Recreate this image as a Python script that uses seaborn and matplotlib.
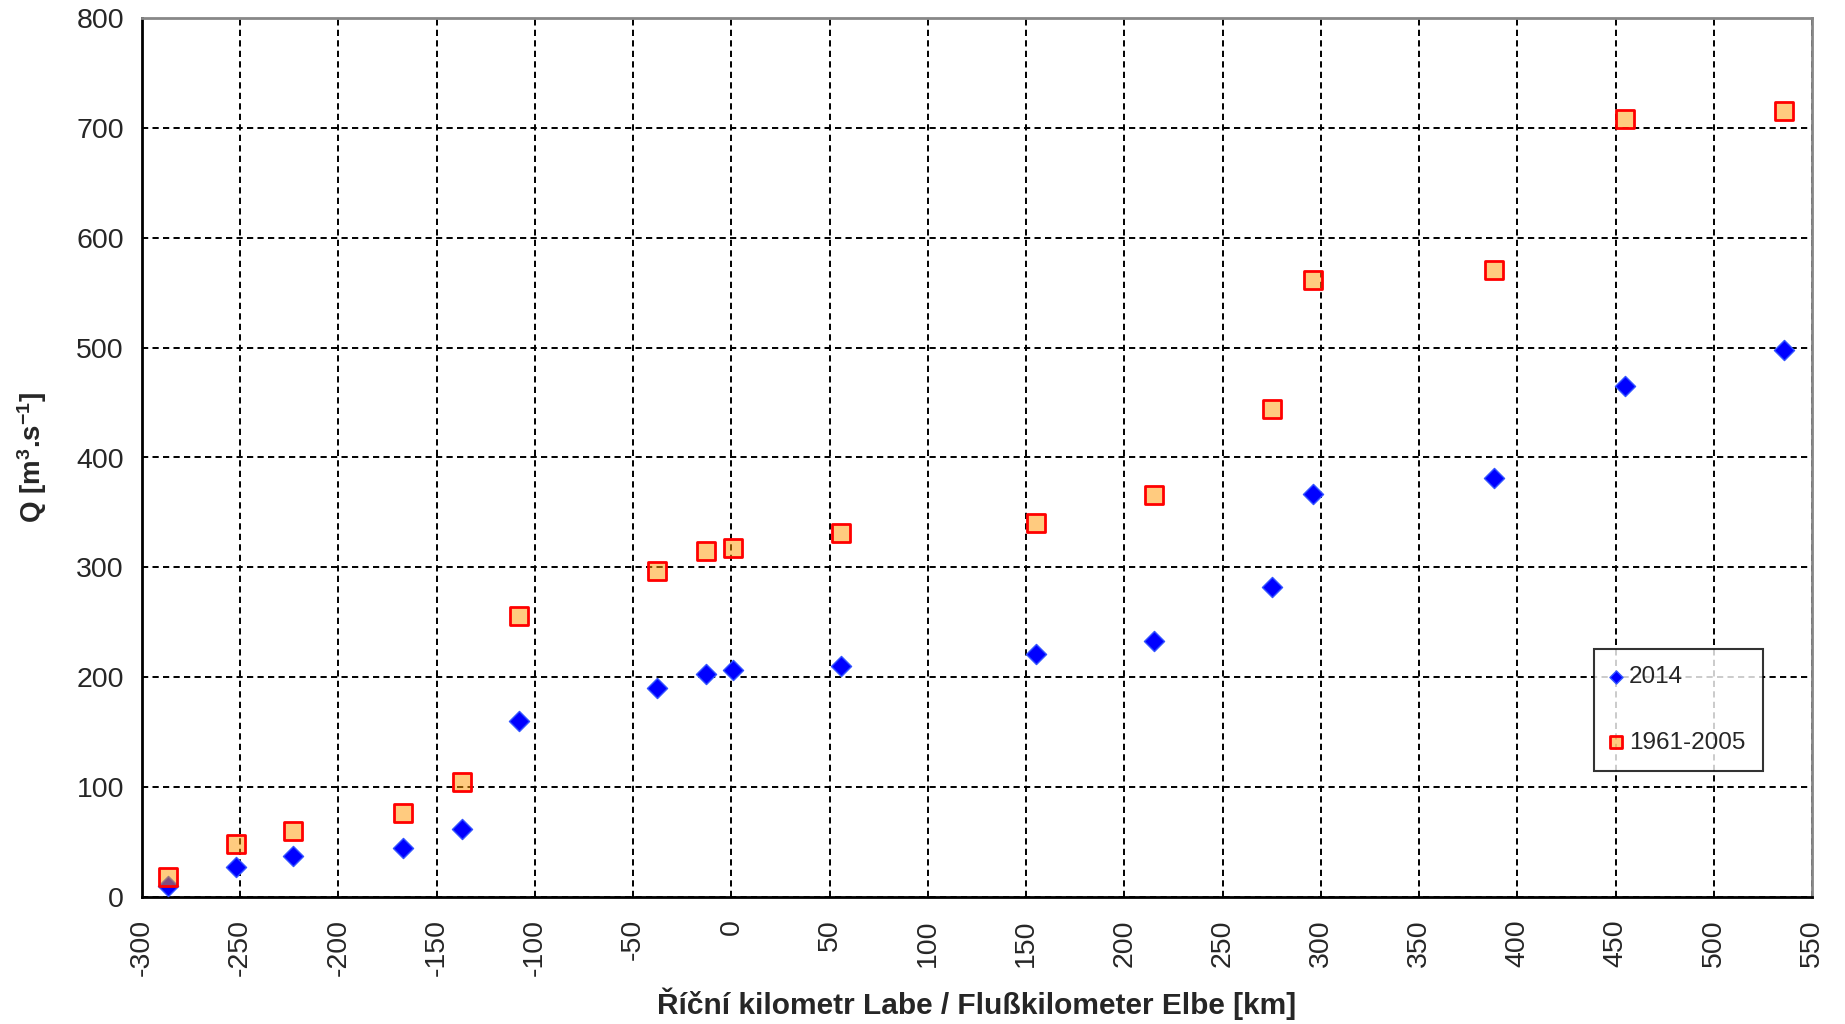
import matplotlib
matplotlib.use("Agg")
import matplotlib.pyplot as plt
import seaborn as sns
import pandas as pd
import numpy as np

# ---- data ----
km = [-287, -252, -223, -167, -137, -108, -38, -13, 1, 56, 155, 215, 275, 296, 388, 455, 536]
q_2014 = [10, 27, 37, 45, 62, 160, 190, 203, 207, 210, 221, 233, 282, 367, 381, 465, 498]
q_1961_2005 = [18, 48, 60, 76, 105, 256, 297, 315, 318, 331, 340, 366, 444, 562, 571, 708, 715]
series_names = ["2014", "1961-2005"]
x_ticks = list(range(-300, 551, 50))
y_ticks = list(range(0, 801, 100))

sns.set_style("white")
plt.rcParams['font.family'] = ['Liberation Sans', 'DejaVu Sans']
plt.rcParams['mathtext.fontset'] = 'custom'
plt.rcParams['mathtext.bf'] = 'Liberation Sans:bold'
plt.rcParams['mathtext.rm'] = 'Liberation Sans:bold'
plt.rcParams['mathtext.default'] = 'bf'

df1 = pd.DataFrame({"km": km, "Q": q_2014})
df2 = pd.DataFrame({"km": km, "Q": q_1961_2005})

fig = plt.figure(figsize=(18.45, 10.24), dpi=100)
ax = fig.add_axes([142/1845, 1-897/1024, (1812-142)/1845, (897-18)/1024])

sns.scatterplot(data=df1, x="km", y="Q", marker="D", s=105, color="#0000ff",
                edgecolor="#3355ff", linewidth=1.0, ax=ax, label=series_names[0], zorder=3)
sns.scatterplot(data=df2, x="km", y="Q", marker="s", s=150, color=(1, 0.6, 0, 0.5),
                edgecolor="#ff0000", linewidth=2.0, ax=ax, label=series_names[1], zorder=4)

ax.set_xlim(-300, 550)
ax.set_ylim(0, 800)
ax.set_xticks(x_ticks)
ax.set_yticks(y_ticks)
ax.set_xticklabels([str(t) for t in x_ticks], rotation=90, fontsize=20.5)
ax.set_yticklabels([str(t) for t in y_ticks], fontsize=20.5)
ax.tick_params(axis='both', direction='out', length=7, width=2, color='black', pad=6)
ax.tick_params(axis='x', pad=9)

ax.grid(True, color='black', linestyle=(0, (3.2, 2.2)), linewidth=1.4, zorder=1)
ax.set_axisbelow(True)

for s in ['left', 'bottom']:
    ax.spines[s].set_color('black')
    ax.spines[s].set_linewidth(2)
for s in ['top', 'right']:
    ax.spines[s].set_color('#888888')
    ax.spines[s].set_linewidth(2)
    ax.spines[s].set_visible(True)

ax.set_xlabel("Říční kilometr Labe / Flußkilometer Elbe [km]", fontsize=21.5,
              fontweight='bold', family=['Liberation Sans Narrow', 'Liberation Sans', 'DejaVu Sans'],
              labelpad=8)
ax.set_ylabel(r"Q [m$^{3}$.s$^{-1}$]", fontsize=20, fontweight='bold', labelpad=20)

leg = ax.legend(loc='upper left', bbox_to_anchor=((1594-142)/1670, 1-(649-18)/879),
                frameon=True, fancybox=False, edgecolor='black', fontsize=17.5,
                labelspacing=1.8, handletextpad=0.35, borderpad=0.7, markerscale=0.65,
                handlelength=0.4, borderaxespad=0)
leg.get_frame().set_linewidth(1.5)
leg.set_zorder(10)

fig.savefig("out.png", dpi=100)
